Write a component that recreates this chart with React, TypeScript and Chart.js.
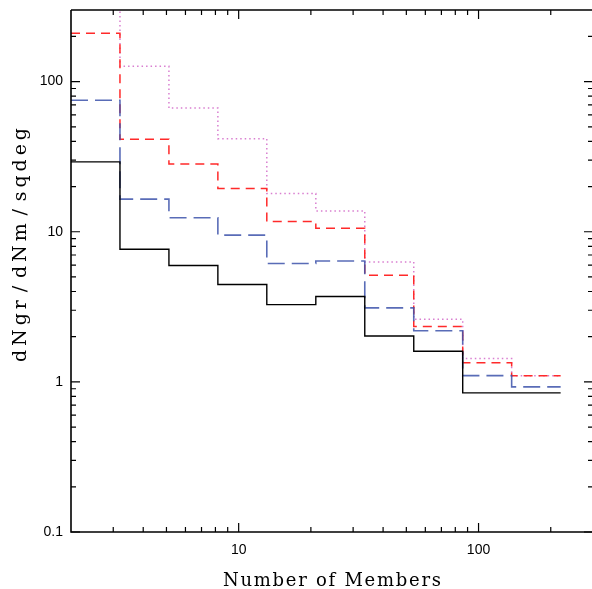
import React, { useEffect, useRef } from 'react';
import { Chart, registerables } from 'chart.js';

Chart.register(...registerables);

// Bin edges (Number of Members) and per-bin values (dNgr/dNm/sqdeg)
const binEdges = [2, 3.2, 5.12, 8.19, 13.1, 20.97, 33.55, 53.69, 85.9, 137.4, 219.9];
const blackValues = [29.2, 7.65, 5.96, 4.45, 3.27, 3.7, 2.02, 1.6, 0.845, 0.845];
const blueValues = [75.1, 16.5, 12.4, 9.5, 6.14, 6.39, 3.11, 2.19, 1.1, 0.926];
const redValues = [210, 41.3, 28.3, 19.4, 11.7, 10.55, 5.13, 2.34, 1.34, 1.1];
const pinkValues = [480, 126.5, 66.7, 41.7, 17.96, 13.76, 6.29, 2.61, 1.43, 1.1];

const xMajorTicks = [10, 100];
const xMinorTicks = [3, 4, 5, 6, 7, 8, 9, 20, 30, 40, 50, 60, 70, 80, 90, 200];
const yMajorTicks = [0.1, 1, 10, 100];
const yMinorTicks = [0.2, 0.3, 0.4, 0.5, 0.6, 0.7, 0.8, 0.9, 2, 3, 4, 5, 6, 7, 8, 9, 20, 30, 40, 50, 60, 70, 80, 90, 200];

const xTitle = 'Number of Members';
const yTitle = 'dNgr/dNm/sqdeg';

function stepData(values: number[]) {
  return binEdges.map((e, i) => ({ x: e, y: values[Math.min(i, values.length - 1)] }));
}

function drawSpaced(ctx: CanvasRenderingContext2D, text: string, cx: number, baseY: number, target: number, slashWeight: number) {
  const chars = text.split('');
  const widths = chars.map((c) => ctx.measureText(c).width);
  const natural = widths.reduce((a, b) => a + b, 0);
  const gapW = chars.slice(0, -1).map((c, i) => (c === '/' || chars[i + 1] === '/' ? slashWeight : 1));
  const totalW = gapW.reduce((a, b) => a + b, 0);
  const unit = totalW > 0 ? (target - natural) / totalW : 0;
  let x = cx - target / 2;
  ctx.textAlign = 'left';
  ctx.textBaseline = 'alphabetic';
  chars.forEach((c, i) => {
    ctx.fillText(c, x, baseY);
    x += widths[i] + (i < gapW.length ? gapW[i] * unit : 0);
  });
}

const framePlugin = {
  id: 'frame',
  afterDraw(chart: any) {
    const { ctx, chartArea, scales } = chart;
    const xs = scales.x;
    const ys = scales.y;
    const { left, right, top, bottom } = chartArea;
    ctx.save();
    ctx.strokeStyle = '#000';
    ctx.lineWidth = 1.6;
    ctx.beginPath();
    ctx.moveTo(left, top);
    ctx.lineTo(left, bottom);
    ctx.lineTo(right, bottom);
    ctx.moveTo(left, top);
    ctx.lineTo(right, top);
    ctx.stroke();

    ctx.lineWidth = 1.2;
    const major = 9;
    const minor = 5;
    ctx.beginPath();
    const xt = (v: number, len: number) => {
      const px = xs.getPixelForValue(v);
      ctx.moveTo(px, bottom);
      ctx.lineTo(px, bottom - len);
      ctx.moveTo(px, top);
      ctx.lineTo(px, top + len);
    };
    const yt = (v: number, len: number) => {
      const py = ys.getPixelForValue(v);
      ctx.moveTo(left, py);
      ctx.lineTo(left + len, py);
      ctx.moveTo(right, py);
      ctx.lineTo(right - len, py);
    };
    xMajorTicks.forEach((v) => xt(v, major));
    xMinorTicks.forEach((v) => xt(v, minor));
    yMajorTicks.forEach((v) => yt(v, major));
    yMinorTicks.forEach((v) => yt(v, minor));
    ctx.stroke();

    ctx.fillStyle = '#000';
    ctx.font = '18px "DejaVu Serif"';
    drawSpaced(ctx, xTitle, (left + right) / 2, 586, 218, 1);
    ctx.translate(26, 245);
    ctx.rotate(-Math.PI / 2);
    ctx.font = '19px "DejaVu Serif"';
    drawSpaced(ctx, yTitle, 0, 0, 234, 2);
    ctx.restore();
  },
};

export default function App() {
  const ref = useRef<HTMLCanvasElement>(null);
  useEffect(() => {
    if (!ref.current) return;
    const tickFont = { family: '"Liberation Sans", Arial, sans-serif', size: 14 };
    const chart = new Chart(ref.current, {
      type: 'line',
      data: {
        datasets: [
          { label: 'black', data: stepData(blackValues), borderColor: '#000', borderWidth: 1.4, stepped: 'before', pointRadius: 0, fill: false },
          { label: 'blue', data: stepData(blueValues), borderColor: 'rgba(60,82,170,0.85)', borderWidth: 1.6, borderDash: [17, 7], stepped: 'before', pointRadius: 0, fill: false },
          { label: 'red', data: stepData(redValues), borderColor: '#ff2a2a', borderWidth: 1.5, borderDash: [9, 6], stepped: 'before', pointRadius: 0, fill: false },
          { label: 'pink', data: stepData(pinkValues), borderColor: '#d97fd0', borderWidth: 1.5, borderDash: [1.5, 3], stepped: 'before', pointRadius: 0, fill: false },
        ],
      },
      options: {
        animation: false,
        responsive: false,
        maintainAspectRatio: false,
        devicePixelRatio: 1,
        layout: { padding: { left: 0, top: 10, right: 17, bottom: 0 } },
        plugins: { legend: { display: false }, tooltip: { enabled: false } },
        scales: {
          x: {
            type: 'logarithmic',
            min: 2,
            max: 300,
            grid: { display: false, drawTicks: false },
            border: { display: false },
            afterBuildTicks: (s: any) => { s.ticks = xMajorTicks.map((v) => ({ value: v })); },
            afterFit: (s: any) => { s.height = 57; s.paddingLeft = 0; s.paddingRight = 0; },
            ticks: { font: tickFont, color: '#000', padding: 10, autoSkip: false, maxRotation: 0, callback: (v: any) => String(v) },
          },
          y: {
            type: 'logarithmic',
            min: 0.1,
            max: 300,
            grid: { display: false, drawTicks: false },
            border: { display: false },
            afterBuildTicks: (s: any) => { s.ticks = yMajorTicks.map((v) => ({ value: v })); },
            afterFit: (s: any) => { s.width = 71; s.paddingTop = 0; s.paddingBottom = 0; },
            ticks: { font: tickFont, color: '#000', padding: 8, autoSkip: false, callback: (v: any) => String(v) },
          },
        },
      },
      plugins: [framePlugin],
    });
    return () => chart.destroy();
  }, []);
  return (
    <div style={{ position: 'fixed', left: 0, top: 0, width: 592, height: 589, overflow: 'hidden', background: '#fff' }}>
      <canvas ref={ref} width={610} height={589} style={{ width: 610, height: 589, display: 'block' }} />
    </div>
  );
}
